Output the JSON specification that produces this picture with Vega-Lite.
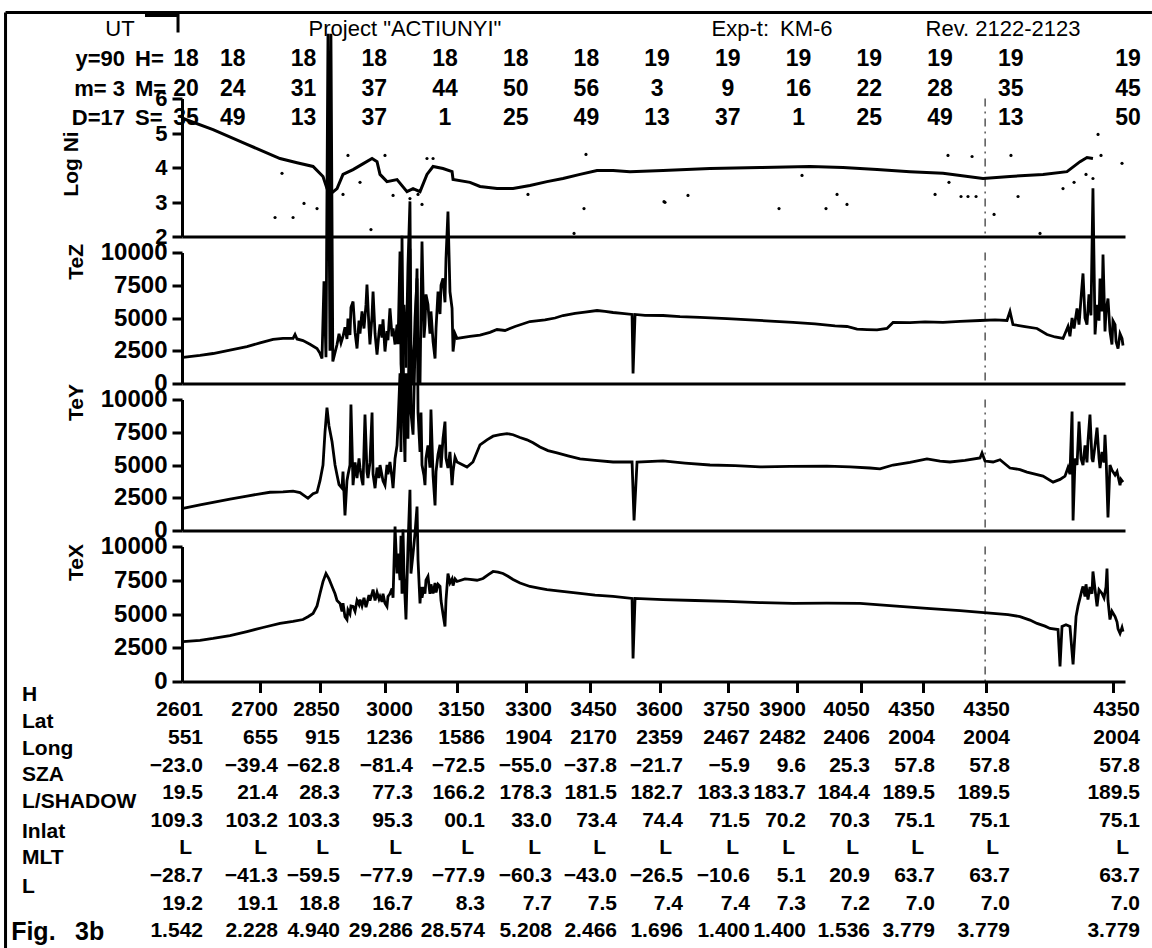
{
  "$schema": "https://vega.github.io/schema/vega-lite/v6.json",
  "background": "white",
  "padding": {"left": 4, "top": 9.5, "right": 0, "bottom": 0},
  "autosize": {"type": "pad"},
  "bounds": "flush",
  "spacing": 16,
  "config": {
    "view": {"stroke": null},
    "text": {"font": "Liberation Sans", "color": "black"},
    "axis": {"domainColor": "black", "domainWidth": 3, "tickColor": "black", "tickWidth": 3, "labelColor": "black", "titleColor": "black", "labelFont": "Liberation Sans", "titleFont": "Liberation Sans", "labelFontWeight": "bold", "titleFontWeight": "bold", "grid": false, "labelOverlap": false, "labelFlush": false}
  },
  "datasets": {
    "frame": [{"x1": 4.25, "x2": 4.25, "y1": -1.593, "y2": 30.2}, {"x1": 4.25, "x2": 108.0, "y1": -1.593, "y2": -1.593}],
    "bracket": [{"i": 0, "t": 16.87, "r": -1.49}, {"i": 1, "t": 19.86, "r": -1.49}, {"i": 2, "t": 19.86, "r": -0.915}],
    "titles": [{"t": 14.61, "r": -1.05, "text": "UT"}, {"t": 40.40, "r": -1.05, "text": "Project \"ACTIUNYI\""}, {"t": 73.62, "r": -1.05, "text": "Exp-t:\u2002KM-6"}, {"t": 94.52, "r": -1.05, "text": "Rev. 2122-2123"}],
    "datelabels": [{"t": 15.06, "r": 0, "text": "y=90"}, {"t": 15.06, "r": 1, "text": "m= 3"}, {"t": 15.06, "r": 2, "text": "D=17"}],
    "unitlabels": [{"t": 15.97, "r": 0, "text": "H="}, {"t": 15.97, "r": 1, "text": "M="}, {"t": 15.97, "r": 2, "text": "S="}],
    "ut": [
      {"t": 20.583, "r": 0, "text": "18"}, {"t": 24.817, "r": 0, "text": "18"}, {"t": 31.217, "r": 0, "text": "18"}, {"t": 37.617, "r": 0, "text": "18"}, {"t": 44.017, "r": 0, "text": "18"}, {"t": 50.417, "r": 0, "text": "18"}, {"t": 56.817, "r": 0, "text": "18"}, {"t": 63.217, "r": 0, "text": "19"}, {"t": 69.617, "r": 0, "text": "19"}, {"t": 76.017, "r": 0, "text": "19"}, {"t": 82.417, "r": 0, "text": "19"}, {"t": 88.817, "r": 0, "text": "19"}, {"t": 95.217, "r": 0, "text": "19"}, {"t": 105.833, "r": 0, "text": "19"},
      {"t": 20.583, "r": 1, "text": "20"}, {"t": 24.817, "r": 1, "text": "24"}, {"t": 31.217, "r": 1, "text": "31"}, {"t": 37.617, "r": 1, "text": "37"}, {"t": 44.017, "r": 1, "text": "44"}, {"t": 50.417, "r": 1, "text": "50"}, {"t": 56.817, "r": 1, "text": "56"}, {"t": 63.217, "r": 1, "text": "\u20073"}, {"t": 69.617, "r": 1, "text": "\u20079"}, {"t": 76.017, "r": 1, "text": "16"}, {"t": 82.417, "r": 1, "text": "22"}, {"t": 88.817, "r": 1, "text": "28"}, {"t": 95.217, "r": 1, "text": "35"}, {"t": 105.833, "r": 1, "text": "45"},
      {"t": 20.583, "r": 2, "text": "35"}, {"t": 24.817, "r": 2, "text": "49"}, {"t": 31.217, "r": 2, "text": "13"}, {"t": 37.617, "r": 2, "text": "37"}, {"t": 44.017, "r": 2, "text": "\u20071"}, {"t": 50.417, "r": 2, "text": "25"}, {"t": 56.817, "r": 2, "text": "49"}, {"t": 63.217, "r": 2, "text": "13"}, {"t": 69.617, "r": 2, "text": "37"}, {"t": 76.017, "r": 2, "text": "\u20071"}, {"t": 82.417, "r": 2, "text": "25"}, {"t": 88.817, "r": 2, "text": "49"}, {"t": 95.217, "r": 2, "text": "13"}, {"t": 105.833, "r": 2, "text": "50"}
    ],
    "marker": [{"t": 92.9}],
    "logni": [{"t":20.31,"v":5.42},{"t":23.03,"v":5.10},{"t":26.10,"v":4.67},{"t":29.09,"v":4.26},{"t":30.63,"v":4.14},{"t":32.08,"v":4.03},{"t":32.98,"v":3.74},{"t":33.34,"v":3.39},{"t":33.61,"v":3.22},{"t":34.25,"v":3.39},{"t":34.79,"v":3.80},{"t":35.70,"v":3.94},{"t":36.51,"v":4.09},{"t":37.42,"v":4.26},{"t":37.87,"v":4.17},{"t":38.14,"v":3.80},{"t":38.77,"v":3.59},{"t":39.68,"v":3.65},{"t":40.58,"v":3.30},{"t":41.13,"v":3.39},{"t":41.76,"v":3.30},{"t":42.39,"v":3.80},{"t":42.94,"v":4.03},{"t":43.84,"v":3.97},{"t":44.66,"v":3.88},{"t":44.75,"v":3.65},{"t":46.28,"v":3.57},{"t":47.19,"v":3.45},{"t":48.73,"v":3.39},{"t":50.18,"v":3.39},{"t":51.71,"v":3.48},{"t":53.25,"v":3.59},{"t":54.70,"v":3.68},{"t":56.24,"v":3.80},{"t":57.78,"v":3.91},{"t":59.23,"v":3.91},{"t":60.76,"v":3.88},{"t":63.75,"v":3.91},{"t":68.00,"v":3.97},{"t":72.53,"v":4.00},{"t":77.05,"v":4.03},{"t":80.04,"v":4.00},{"t":83.12,"v":3.94},{"t":86.10,"v":3.88},{"t":89.09,"v":3.83},{"t":92.71,"v":3.68},{"t":95.15,"v":3.74},{"t":98.14,"v":3.80},{"t":100.31,"v":3.88},{"t":101.49,"v":4.17},{"t":102.12,"v":4.29},{"t":102.66,"v":4.26}],
    "logni_pts": [{"t":29.27,"v":3.83},{"t":31.26,"v":2.96},{"t":32.44,"v":2.81},{"t":28.64,"v":2.55},{"t":30.27,"v":2.55},{"t":34.79,"v":3.22},{"t":36.33,"v":3.57},{"t":37.32,"v":2.20},{"t":35.24,"v":4.35},{"t":38.59,"v":4.35},{"t":42.39,"v":4.26},{"t":42.94,"v":4.26},{"t":39.32,"v":3.19},{"t":41.94,"v":2.93},{"t":40.85,"v":3.10},{"t":41.58,"v":3.22},{"t":56.78,"v":4.38},{"t":56.60,"v":2.81},{"t":55.70,"v":2.09},{"t":51.53,"v":3.22},{"t":63.84,"v":3.01},{"t":63.93,"v":2.99},{"t":66.01,"v":3.19},{"t":74.25,"v":2.81},{"t":76.33,"v":3.77},{"t":78.50,"v":2.81},{"t":79.50,"v":3.22},{"t":80.40,"v":2.93},{"t":88.37,"v":3.22},{"t":89.54,"v":4.35},{"t":91.72,"v":4.32},{"t":89.63,"v":3.57},{"t":90.72,"v":3.16},{"t":91.35,"v":3.16},{"t":92.08,"v":3.16},{"t":93.71,"v":2.64},{"t":95.24,"v":4.35},{"t":95.88,"v":3.16},{"t":97.87,"v":2.09},{"t":99.95,"v":3.39},{"t":100.95,"v":3.57},{"t":102.03,"v":3.80},{"t":102.66,"v":3.68},{"t":103.12,"v":4.96},{"t":103.39,"v":4.35},{"t":105.29,"v":4.12}],
    "tez": [{"t":20.31,"v":2000},{"t":21.85,"v":2150},{"t":23.03,"v":2290},{"t":24.56,"v":2550},{"t":26.10,"v":2820},{"t":27.28,"v":3100},{"t":28.46,"v":3360},{"t":29.36,"v":3450},{"t":30.27,"v":3440},{"t":30.45,"v":3740},{"t":30.63,"v":3400},{"t":31.17,"v":3280},{"t":31.80,"v":3000},{"t":32.44,"v":2670},{"t":32.71,"v":2300},{"t":32.89,"v":1910},{"t":33.07,"v":7800},{"t":33.25,"v":2000},{"t":33.43,"v":26700},{"t":33.61,"v":2500},{"t":33.70,"v":26700},{"t":33.87,"v":1680},
      {"t":34.25,"v":2980},{"t":34.43,"v":3800},{"t":34.61,"v":3100},{"t":34.79,"v":3590},{"t":34.97,"v":4300},{"t":35.15,"v":3400},{"t":35.24,"v":4960},{"t":35.42,"v":3700},{"t":35.51,"v":5800},{"t":35.70,"v":6260},{"t":35.88,"v":3900},{"t":36.06,"v":2670},{"t":36.24,"v":4800},{"t":36.33,"v":3800},{"t":36.51,"v":5500},{"t":36.69,"v":4200},{"t":36.87,"v":6000},{"t":36.96,"v":7560},{"t":37.14,"v":4300},{"t":37.23,"v":2980},{"t":37.42,"v":5200},{"t":37.51,"v":7020},{"t":37.69,"v":3800},{"t":37.87,"v":2210},{"t":38.05,"v":3900},{"t":38.14,"v":4500},{"t":38.32,"v":3500},{"t":38.41,"v":4900},{"t":38.59,"v":2440},{"t":38.77,"v":4000},{"t":38.86,"v":3300},{"t":39.04,"v":5730},{"t":39.23,"v":3600},{"t":39.32,"v":4200},{"t":39.50,"v":2980},{"t":39.68,"v":4500},{"t":39.77,"v":3000},{"t":39.95,"v":10080},{"t":40.04,"v":1500},{"t":40.13,"v":150},{"t":40.31,"v":6000},{"t":40.49,"v":1200},{"t":40.67,"v":9000},{"t":40.85,"v":13900},{"t":40.94,"v":3000},{"t":41.13,"v":0},{"t":41.31,"v":5000},{"t":41.49,"v":8020},{"t":41.58,"v":2000},{"t":41.76,"v":0},{"t":41.85,"v":6000},{"t":41.94,"v":10840},{"t":42.12,"v":3500},{"t":42.21,"v":4500},{"t":42.30,"v":6800},{"t":42.48,"v":6030},{"t":42.66,"v":3800},{"t":42.75,"v":5500},{"t":42.94,"v":3200},{"t":43.12,"v":1910},{"t":43.21,"v":4200},{"t":43.39,"v":7020},{"t":43.57,"v":5300},{"t":43.66,"v":7500},{"t":43.84,"v":8020},{"t":44.02,"v":6200},{"t":44.11,"v":9500},{"t":44.29,"v":13130},{"t":44.47,"v":7000},{"t":44.66,"v":5730},{"t":44.75,"v":2440},{"t":44.93,"v":3800},{"t":45.11,"v":3440},
      {"t":46.28,"v":3590},{"t":47.19,"v":3700},{"t":48.09,"v":3900},{"t":48.73,"v":4120},{"t":49.45,"v":4050},{"t":50.36,"v":4350},{"t":51.71,"v":4730},{"t":53.07,"v":4850},{"t":53.98,"v":5000},{"t":54.70,"v":5190},{"t":55.79,"v":5350},{"t":56.69,"v":5450},{"t":57.78,"v":5570},{"t":58.50,"v":5500},{"t":59.23,"v":5420},{"t":60.04,"v":5350},{"t":60.95,"v":5270},{"t":61.04,"v":760},{"t":61.22,"v":5270},{"t":62.12,"v":5200},{"t":63.75,"v":5190},{"t":65.29,"v":5100},{"t":67.10,"v":5050},{"t":69.54,"v":4960},{"t":71.62,"v":4850},{"t":73.89,"v":4750},{"t":75.52,"v":4660},{"t":77.51,"v":4550},{"t":79.32,"v":4400},{"t":80.40,"v":4350},{"t":81.31,"v":4150},{"t":82.21,"v":4120},{"t":83.12,"v":4100},{"t":84.02,"v":4200},{"t":84.57,"v":4660},{"t":86.10,"v":4650},{"t":87.46,"v":4700},{"t":89.09,"v":4660},{"t":90.63,"v":4750},{"t":92.44,"v":4810},{"t":93.80,"v":4850},{"t":94.88,"v":4810},{"t":95.15,"v":5500},{"t":95.42,"v":4500},{"t":96.51,"v":4350},{"t":97.60,"v":4200},{"t":98.50,"v":3740},{"t":99.23,"v":3550},{"t":99.95,"v":3440},
      {"t":100.40,"v":4350},{"t":100.58,"v":3600},{"t":100.77,"v":5000},{"t":100.95,"v":4200},{"t":101.22,"v":5730},{"t":101.40,"v":4500},{"t":101.58,"v":6500},{"t":101.76,"v":8400},{"t":101.94,"v":5000},{"t":102.12,"v":4500},{"t":102.30,"v":6800},{"t":102.48,"v":5200},{"t":102.57,"v":10080},{"t":102.66,"v":14900},{"t":102.85,"v":3740},{"t":103.03,"v":6000},{"t":103.21,"v":4800},{"t":103.30,"v":8020},{"t":103.48,"v":5500},{"t":103.57,"v":9850},{"t":103.75,"v":3970},{"t":103.84,"v":5500},{"t":104.02,"v":6490},{"t":104.20,"v":4000},{"t":104.38,"v":2980},{"t":104.47,"v":4800},{"t":104.66,"v":4500},{"t":104.75,"v":3200},{"t":104.93,"v":2670},{"t":105.11,"v":3800},{"t":105.29,"v":3440},{"t":105.38,"v":2900}],
    "tey": [{"t":20.31,"v":1690},{"t":21.85,"v":1950},{"t":23.03,"v":2150},{"t":24.56,"v":2400},{"t":26.10,"v":2620},{"t":27.28,"v":2800},{"t":28.18,"v":2920},{"t":29.36,"v":2950},{"t":30.27,"v":3000},{"t":30.90,"v":2900},{"t":31.62,"v":2460},{"t":32.08,"v":2800},{"t":32.44,"v":2920},{"t":32.71,"v":3800},{"t":32.98,"v":5000},{"t":33.16,"v":7500},{"t":33.34,"v":9380},{"t":33.52,"v":8000},{"t":33.80,"v":6770},{"t":34.07,"v":5000},{"t":34.25,"v":4230},{"t":34.43,"v":3500},{"t":34.70,"v":3230},{"t":34.79,"v":4500},{"t":34.97,"v":1150},{"t":35.15,"v":3800},{"t":35.24,"v":4230},{"t":35.42,"v":5000},{"t":35.51,"v":9620},{"t":35.70,"v":3460},{"t":35.88,"v":5200},{"t":36.06,"v":4000},{"t":36.24,"v":5500},{"t":36.33,"v":4770},{"t":36.51,"v":3800},{"t":36.60,"v":3460},{"t":36.78,"v":8850},{"t":36.96,"v":4500},{"t":37.05,"v":4000},{"t":37.23,"v":5200},{"t":37.42,"v":9000},{"t":37.51,"v":4300},{"t":37.69,"v":3230},{"t":37.87,"v":4800},{"t":38.05,"v":4000},{"t":38.14,"v":5000},{"t":38.32,"v":4200},{"t":38.41,"v":3800},{"t":38.59,"v":3460},{"t":38.77,"v":5000},{"t":38.86,"v":4300},{"t":39.04,"v":5230},{"t":39.23,"v":4000},{"t":39.32,"v":3230},{"t":39.50,"v":5500},{"t":39.68,"v":6500},{"t":39.77,"v":8080},{"t":39.95,"v":12000},{"t":40.04,"v":6000},{"t":40.13,"v":22500},{"t":40.31,"v":8000},{"t":40.40,"v":5230},{"t":40.49,"v":12000},{"t":40.67,"v":7000},{"t":40.85,"v":21500},{"t":40.94,"v":9000},{"t":41.13,"v":7310},{"t":41.31,"v":14000},{"t":41.49,"v":20000},{"t":41.58,"v":9000},{"t":41.76,"v":6000},{"t":41.85,"v":9000},{"t":41.94,"v":5000},{"t":42.12,"v":4200},{"t":42.21,"v":3460},{"t":42.30,"v":5500},{"t":42.48,"v":6500},{"t":42.66,"v":4800},{"t":42.75,"v":9230},{"t":42.94,"v":4200},{"t":43.12,"v":1920},{"t":43.21,"v":4500},{"t":43.39,"v":5800},{"t":43.57,"v":6540},{"t":43.66,"v":4800},{"t":43.84,"v":7000},{"t":44.02,"v":8310},{"t":44.11,"v":5500},{"t":44.29,"v":4770},{"t":44.47,"v":6000},{"t":44.66,"v":3460},{"t":44.75,"v":4500},{"t":44.93,"v":5600},{"t":45.11,"v":5230},
      {"t":46.01,"v":4850},{"t":46.55,"v":5230},{"t":47.19,"v":6540},{"t":47.82,"v":6920},{"t":48.37,"v":7200},{"t":49.00,"v":7310},{"t":49.63,"v":7400},{"t":50.18,"v":7310},{"t":50.81,"v":7100},{"t":51.44,"v":6920},{"t":51.99,"v":6700},{"t":52.62,"v":6380},{"t":53.34,"v":6100},{"t":54.16,"v":5920},{"t":55.15,"v":5700},{"t":56.24,"v":5460},{"t":57.60,"v":5350},{"t":59.23,"v":5230},{"t":60.95,"v":5230},{"t":61.13,"v":770},{"t":61.40,"v":5230},{"t":63.75,"v":5310},{"t":65.74,"v":5150},{"t":68.00,"v":5000},{"t":70.27,"v":4950},{"t":72.53,"v":4850},{"t":75.24,"v":4900},{"t":78.59,"v":4920},{"t":80.68,"v":4850},{"t":82.48,"v":4770},{"t":83.39,"v":4700},{"t":84.57,"v":5000},{"t":86.10,"v":5200},{"t":87.64,"v":5460},{"t":88.82,"v":5300},{"t":89.72,"v":5230},{"t":91.08,"v":5350},{"t":92.44,"v":5540},{"t":92.62,"v":5920},{"t":92.89,"v":5300},{"t":93.62,"v":5230},{"t":94.25,"v":5400},{"t":95.15,"v":4770},{"t":96.06,"v":4650},{"t":96.69,"v":4460},{"t":97.42,"v":4300},{"t":98.14,"v":4150},{"t":99.05,"v":3690},{"t":99.68,"v":3900},{"t":100.13,"v":4150},
      {"t":100.40,"v":4800},{"t":100.58,"v":4300},{"t":100.77,"v":9080},{"t":100.86,"v":770},{"t":101.04,"v":5500},{"t":101.22,"v":5000},{"t":101.40,"v":8310},{"t":101.58,"v":5500},{"t":101.76,"v":5000},{"t":101.94,"v":6500},{"t":102.12,"v":5200},{"t":102.21,"v":6800},{"t":102.39,"v":8850},{"t":102.57,"v":5500},{"t":102.66,"v":5230},{"t":102.85,"v":6500},{"t":103.03,"v":7850},{"t":103.21,"v":5500},{"t":103.30,"v":4770},{"t":103.48,"v":6000},{"t":103.66,"v":5200},{"t":103.75,"v":7310},{"t":103.84,"v":5800},{"t":104.02,"v":1000},{"t":104.20,"v":5000},{"t":104.38,"v":4600},{"t":104.66,"v":4230},{"t":104.84,"v":4500},{"t":105.11,"v":3460},{"t":105.20,"v":3900},{"t":105.38,"v":3690}],
    "tex": [{"t":20.31,"v":2960},{"t":21.85,"v":3050},{"t":23.03,"v":3190},{"t":24.56,"v":3400},{"t":26.10,"v":3700},{"t":27.55,"v":4000},{"t":29.09,"v":4300},{"t":30.27,"v":4450},{"t":31.17,"v":4590},{"t":31.62,"v":4800},{"t":32.08,"v":5040},{"t":32.44,"v":5600},{"t":32.71,"v":6520},{"t":32.98,"v":7400},{"t":33.25,"v":8000},{"t":33.52,"v":7600},{"t":33.80,"v":7040},{"t":34.07,"v":6500},{"t":34.25,"v":6000},{"t":34.52,"v":5780},{"t":34.70,"v":5200},{"t":34.79,"v":5800},{"t":34.97,"v":4800},{"t":35.15,"v":4590},{"t":35.24,"v":5300},{"t":35.42,"v":5000},{"t":35.51,"v":5600},{"t":35.70,"v":5560},{"t":35.88,"v":5200},{"t":36.06,"v":6000},{"t":36.24,"v":5700},{"t":36.33,"v":6070},{"t":36.51,"v":5600},{"t":36.69,"v":6200},{"t":36.87,"v":5500},{"t":36.96,"v":5780},{"t":37.14,"v":6400},{"t":37.23,"v":6000},{"t":37.42,"v":6500},{"t":37.51,"v":6810},{"t":37.69,"v":6000},{"t":37.87,"v":6600},{"t":38.05,"v":6100},{"t":38.14,"v":6300},{"t":38.32,"v":5900},{"t":38.41,"v":6500},{"t":38.59,"v":5800},{"t":38.77,"v":5560},{"t":38.86,"v":6300},{"t":39.04,"v":6500},{"t":39.23,"v":6890},{"t":39.32,"v":6200},{"t":39.50,"v":11480},{"t":39.68,"v":8000},{"t":39.77,"v":9480},{"t":39.95,"v":7500},{"t":40.04,"v":10800},{"t":40.13,"v":6500},{"t":40.22,"v":11260},{"t":40.31,"v":8000},{"t":40.49,"v":4590},{"t":40.67,"v":10000},{"t":40.85,"v":14200},{"t":40.94,"v":8000},{"t":41.13,"v":9480},{"t":41.31,"v":11000},{"t":41.49,"v":12960},{"t":41.58,"v":9000},{"t":41.76,"v":5780},{"t":41.85,"v":7000},{"t":41.94,"v":6200},{"t":42.12,"v":7000},{"t":42.21,"v":6500},{"t":42.30,"v":7500},{"t":42.48,"v":7780},{"t":42.66,"v":6500},{"t":42.75,"v":7200},{"t":42.94,"v":6520},{"t":43.12,"v":7300},{"t":43.21,"v":6600},{"t":43.39,"v":7200},{"t":43.57,"v":7040},{"t":43.66,"v":6000},{"t":43.84,"v":5000},{"t":44.02,"v":4070},{"t":44.11,"v":6000},{"t":44.29,"v":8000},{"t":44.47,"v":7300},{"t":44.66,"v":7600},{"t":44.75,"v":7100},{"t":44.93,"v":7600},{"t":45.11,"v":7410},
      {"t":45.83,"v":7600},{"t":46.28,"v":7560},{"t":46.92,"v":7500},{"t":47.46,"v":7630},{"t":47.91,"v":7900},{"t":48.37,"v":8150},{"t":48.82,"v":8100},{"t":49.27,"v":8000},{"t":49.72,"v":7800},{"t":50.18,"v":7560},{"t":50.81,"v":7300},{"t":51.71,"v":7040},{"t":52.62,"v":6900},{"t":53.25,"v":6810},{"t":54.43,"v":6700},{"t":56.24,"v":6520},{"t":57.60,"v":6400},{"t":59.23,"v":6300},{"t":60.95,"v":6150},{"t":61.04,"v":1700},{"t":61.22,"v":6150},{"t":63.75,"v":6070},{"t":66.65,"v":6000},{"t":69.54,"v":5930},{"t":72.53,"v":5850},{"t":75.52,"v":5780},{"t":78.59,"v":5800},{"t":81.58,"v":5780},{"t":84.57,"v":5600},{"t":87.64,"v":5410},{"t":90.63,"v":5250},{"t":93.62,"v":5040},{"t":94.97,"v":4950},{"t":96.06,"v":4810},{"t":96.96,"v":4550},{"t":97.60,"v":4300},{"t":98.32,"v":4100},{"t":98.77,"v":3930},{"t":99.50,"v":3850},{"t":99.68,"v":1110},{"t":99.86,"v":4070},{"t":100.22,"v":4200},{"t":100.58,"v":4070},{"t":100.86,"v":1260},{"t":101.13,"v":4810},{"t":101.31,"v":5600},{"t":101.49,"v":6200},{"t":101.67,"v":6800},{"t":101.76,"v":7040},{"t":101.94,"v":6300},{"t":102.03,"v":7200},{"t":102.21,"v":6070},{"t":102.39,"v":7000},{"t":102.57,"v":6500},{"t":102.66,"v":8150},{"t":102.85,"v":6800},{"t":103.03,"v":5560},{"t":103.21,"v":6800},{"t":103.48,"v":6520},{"t":103.66,"v":6200},{"t":103.84,"v":7000},{"t":103.93,"v":8370},{"t":104.02,"v":6000},{"t":104.20,"v":4590},{"t":104.38,"v":5200},{"t":104.66,"v":4810},{"t":104.84,"v":4400},{"t":104.93,"v":3900},{"t":105.11,"v":3560},{"t":105.29,"v":4000},{"t":105.38,"v":3700}],
    "rowlabels": [{"col": -1, "row": -0.56, "text": "H"}, {"col": -1, "row": 0.40, "text": "Lat"}, {"col": -1, "row": 1.38, "text": "Long"}, {"col": -1, "row": 2.32, "text": "SZA"}, {"col": -1, "row": 3.33, "text": "L/SHADOW"}, {"col": -1, "row": 4.39, "text": "Inlat"}, {"col": -1, "row": 5.36, "text": "MLT"}, {"col": -1, "row": 6.38, "text": "L"}],
    "figlabel": [{"col": -1.06, "row": 8.04, "text": "Fig.\u2002 3b"}],
    "orbit": [
      {"col":0,"row":0,"text":"2601"},{"col":1,"row":0,"text":"2700"},{"col":2,"row":0,"text":"2850"},{"col":3,"row":0,"text":"3000"},{"col":4,"row":0,"text":"3150"},{"col":5,"row":0,"text":"3300"},{"col":6,"row":0,"text":"3450"},{"col":7,"row":0,"text":"3600"},{"col":8,"row":0,"text":"3750"},{"col":9,"row":0,"text":"3900"},{"col":10,"row":0,"text":"4050"},{"col":11,"row":0,"text":"4350"},{"col":12,"row":0,"text":"4350"},{"col":13,"row":0,"text":"4350"},
      {"col":0,"row":1,"text":"551"},{"col":1,"row":1,"text":"655"},{"col":2,"row":1,"text":"915"},{"col":3,"row":1,"text":"1236"},{"col":4,"row":1,"text":"1586"},{"col":5,"row":1,"text":"1904"},{"col":6,"row":1,"text":"2170"},{"col":7,"row":1,"text":"2359"},{"col":8,"row":1,"text":"2467"},{"col":9,"row":1,"text":"2482"},{"col":10,"row":1,"text":"2406"},{"col":11,"row":1,"text":"2004"},{"col":12,"row":1,"text":"2004"},{"col":13,"row":1,"text":"2004"},
      {"col":0,"row":2,"text":"−23.0"},{"col":1,"row":2,"text":"−39.4"},{"col":2,"row":2,"text":"−62.8"},{"col":3,"row":2,"text":"−81.4"},{"col":4,"row":2,"text":"−72.5"},{"col":5,"row":2,"text":"−55.0"},{"col":6,"row":2,"text":"−37.8"},{"col":7,"row":2,"text":"−21.7"},{"col":8,"row":2,"text":"−5.9"},{"col":9,"row":2,"text":"9.6"},{"col":10,"row":2,"text":"25.3"},{"col":11,"row":2,"text":"57.8"},{"col":12,"row":2,"text":"57.8"},{"col":13,"row":2,"text":"57.8"},
      {"col":0,"row":3,"text":"19.5"},{"col":1,"row":3,"text":"21.4"},{"col":2,"row":3,"text":"28.3"},{"col":3,"row":3,"text":"77.3"},{"col":4,"row":3,"text":"166.2"},{"col":5,"row":3,"text":"178.3"},{"col":6,"row":3,"text":"181.5"},{"col":7,"row":3,"text":"182.7"},{"col":8,"row":3,"text":"183.3"},{"col":9,"row":3,"text":"183.7"},{"col":10,"row":3,"text":"184.4"},{"col":11,"row":3,"text":"189.5"},{"col":12,"row":3,"text":"189.5"},{"col":13,"row":3,"text":"189.5"},
      {"col":0,"row":4,"text":"109.3"},{"col":1,"row":4,"text":"103.2"},{"col":2,"row":4,"text":"103.3"},{"col":3,"row":4,"text":"95.3"},{"col":4,"row":4,"text":"00.1"},{"col":5,"row":4,"text":"33.0"},{"col":6,"row":4,"text":"73.4"},{"col":7,"row":4,"text":"74.4"},{"col":8,"row":4,"text":"71.5"},{"col":9,"row":4,"text":"70.2"},{"col":10,"row":4,"text":"70.3"},{"col":11,"row":4,"text":"75.1"},{"col":12,"row":4,"text":"75.1"},{"col":13,"row":4,"text":"75.1"},
      {"col":0,"row":5,"text":"L"},{"col":1,"row":5,"text":"L"},{"col":2,"row":5,"text":"L"},{"col":3,"row":5,"text":"L"},{"col":4,"row":5,"text":"L"},{"col":5,"row":5,"text":"L"},{"col":6,"row":5,"text":"L"},{"col":7,"row":5,"text":"L"},{"col":8,"row":5,"text":"L"},{"col":9,"row":5,"text":"L"},{"col":10,"row":5,"text":"L"},{"col":11,"row":5,"text":"L"},{"col":12,"row":5,"text":"L"},{"col":13,"row":5,"text":"L"},
      {"col":0,"row":6,"text":"−28.7"},{"col":1,"row":6,"text":"−41.3"},{"col":2,"row":6,"text":"−59.5"},{"col":3,"row":6,"text":"−77.9"},{"col":4,"row":6,"text":"−77.9"},{"col":5,"row":6,"text":"−60.3"},{"col":6,"row":6,"text":"−43.0"},{"col":7,"row":6,"text":"−26.5"},{"col":8,"row":6,"text":"−10.6"},{"col":9,"row":6,"text":"5.1"},{"col":10,"row":6,"text":"20.9"},{"col":11,"row":6,"text":"63.7"},{"col":12,"row":6,"text":"63.7"},{"col":13,"row":6,"text":"63.7"},
      {"col":0,"row":7,"text":"19.2"},{"col":1,"row":7,"text":"19.1"},{"col":2,"row":7,"text":"18.8"},{"col":3,"row":7,"text":"16.7"},{"col":4,"row":7,"text":"8.3"},{"col":5,"row":7,"text":"7.7"},{"col":6,"row":7,"text":"7.5"},{"col":7,"row":7,"text":"7.4"},{"col":8,"row":7,"text":"7.4"},{"col":9,"row":7,"text":"7.3"},{"col":10,"row":7,"text":"7.2"},{"col":11,"row":7,"text":"7.0"},{"col":12,"row":7,"text":"7.0"},{"col":13,"row":7,"text":"7.0"},
      {"col":0,"row":8,"text":"1.542"},{"col":1,"row":8,"text":"2.228"},{"col":2,"row":8,"text":"4.940"},{"col":3,"row":8,"text":"29.286"},{"col":4,"row":8,"text":"28.574"},{"col":5,"row":8,"text":"5.208"},{"col":6,"row":8,"text":"2.466"},{"col":7,"row":8,"text":"1.696"},{"col":8,"row":8,"text":"1.400"},{"col":9,"row":8,"text":"1.400"},{"col":10,"row":8,"text":"1.536"},{"col":11,"row":8,"text":"3.779"},{"col":12,"row":8,"text":"3.779"},{"col":13,"row":8,"text":"3.779"}
    ]
  },
  "vconcat": [
    {
      "width": 943, "height": 69,
      "layer": [
        {"data": {"name": "frame"}, "mark": {"type": "rule", "color": "black", "strokeWidth": 3, "clip": false},
         "encoding": {"x": {"field": "x1", "type": "quantitative", "scale": {"domain": [20.22, 105.56], "nice": false, "zero": false}, "axis": null}, "x2": {"field": "x2"},
                      "y": {"field": "y1", "type": "quantitative", "scale": {"domain": [-1.559, 0.78], "nice": false, "zero": false, "reverse": true}, "axis": null}, "y2": {"field": "y2"}}},
        {"data": {"name": "bracket"}, "mark": {"type": "line", "color": "black", "strokeWidth": 3, "clip": false},
         "encoding": {"x": {"field": "t", "type": "quantitative", "scale": {"domain": [20.22, 105.56], "nice": false, "zero": false}, "axis": null},
                      "y": {"field": "r", "type": "quantitative", "scale": {"domain": [-1.559, 0.78], "nice": false, "zero": false, "reverse": true}, "axis": null},
                      "order": {"field": "i"}}},
        {"data": {"name": "titles"}, "mark": {"type": "text", "fontSize": 22, "align": "center", "baseline": "middle"},
         "encoding": {"x": {"field": "t", "type": "quantitative", "scale": {"domain": [20.22, 105.56], "nice": false, "zero": false}, "axis": null},
                      "y": {"field": "r", "type": "quantitative", "scale": {"domain": [-1.559, 0.78], "nice": false, "zero": false, "reverse": true}, "axis": null},
                      "text": {"field": "text"}}},
        {"data": {"name": "datelabels"}, "mark": {"type": "text", "fontSize": 22, "fontWeight": "bold", "align": "right", "baseline": "middle"},
         "encoding": {"x": {"field": "t", "type": "quantitative", "scale": {"domain": [20.22, 105.56], "nice": false, "zero": false}, "axis": null},
                      "y": {"field": "r", "type": "quantitative", "scale": {"domain": [-1.559, 0.78], "nice": false, "zero": false, "reverse": true}, "axis": null},
                      "text": {"field": "text"}}},
        {"data": {"name": "unitlabels"}, "mark": {"type": "text", "fontSize": 22, "fontWeight": "bold", "align": "left", "baseline": "middle"},
         "encoding": {"x": {"field": "t", "type": "quantitative", "scale": {"domain": [20.22, 105.56], "nice": false, "zero": false}, "axis": null},
                      "y": {"field": "r", "type": "quantitative", "scale": {"domain": [-1.559, 0.78], "nice": false, "zero": false, "reverse": true}, "axis": null},
                      "text": {"field": "text"}}},
        {"data": {"name": "ut"}, "mark": {"type": "text", "fontSize": 23, "fontWeight": "bold", "align": "center", "baseline": "middle"},
         "encoding": {"x": {"field": "t", "type": "quantitative", "scale": {"domain": [20.22, 105.56], "nice": false, "zero": false}, "axis": null},
                      "y": {"field": "r", "type": "quantitative", "scale": {"domain": [-1.559, 0.78], "nice": false, "zero": false, "reverse": true}, "axis": null},
                      "text": {"field": "text"}}}
      ]
    },
    {
      "width": 943, "height": 138,
      "layer": [
        {"data": {"name": "logni"}, "mark": {"type": "line", "color": "black", "strokeWidth": 3, "clip": false},
         "encoding": {"x": {"field": "t", "type": "quantitative", "scale": {"domain": [20.22, 105.56], "nice": false, "zero": false}, "axis": {"title": null, "labels": false, "ticks": false}},
                      "y": {"field": "v", "type": "quantitative", "scale": {"domain": [2, 6], "nice": false, "zero": false},
                            "axis": {"title": "Log Ni", "values": [2, 3, 4, 5, 6], "tickCount": 5, "labelOverlap": false, "labelBound": false, "labelFontSize": 22, "tickSize": 10, "labelPadding": 5, "titleFontSize": 21, "titleAngle": -90, "titleX": -105, "titleY": 65, "titleAlign": "center", "titleBaseline": "alphabetic"}}}},
        {"data": {"name": "logni_pts"}, "mark": {"type": "circle", "color": "black", "opacity": 1, "size": 10, "clip": false},
         "encoding": {"x": {"field": "t", "type": "quantitative", "scale": {"domain": [20.22, 105.56], "nice": false, "zero": false}, "axis": {"title": null, "labels": false, "ticks": false}},
                      "y": {"field": "v", "type": "quantitative", "scale": {"domain": [2, 6], "nice": false, "zero": false},
                            "axis": {"title": "Log Ni", "values": [2, 3, 4, 5, 6], "tickCount": 5, "labelOverlap": false, "labelBound": false, "labelFontSize": 22, "tickSize": 10, "labelPadding": 5, "titleFontSize": 21, "titleAngle": -90, "titleX": -105, "titleY": 65, "titleAlign": "center", "titleBaseline": "alphabetic"}}}},
        {"data": {"name": "marker"}, "mark": {"type": "rule", "color": "black", "strokeWidth": 1, "strokeDash": [8, 5, 2, 5]},
         "encoding": {"x": {"field": "t", "type": "quantitative"}}}
      ]
    },
    {
      "width": 943, "height": 131,
      "layer": [
        {"data": {"name": "tez"}, "mark": {"type": "line", "color": "black", "strokeWidth": 2.8, "clip": false},
         "encoding": {"x": {"field": "t", "type": "quantitative", "scale": {"domain": [20.22, 105.56], "nice": false, "zero": false}, "axis": {"title": null, "labels": false, "ticks": false}},
                      "y": {"field": "v", "type": "quantitative", "scale": {"domain": [0, 10000], "nice": false},
                            "axis": {"title": "TeZ", "values": [0, 2500, 5000, 7500, 10000], "format": "d", "labelOverlap": false, "labelFontSize": 24, "tickSize": 10, "labelPadding": 5, "titleFontSize": 21, "titleAngle": -90, "titleX": -100, "titleY": -9, "titleAlign": "right", "titleBaseline": "alphabetic"}}}},
        {"data": {"name": "marker"}, "mark": {"type": "rule", "color": "black", "strokeWidth": 1, "strokeDash": [8, 5, 2, 5]},
         "encoding": {"x": {"field": "t", "type": "quantitative"}}}
      ]
    },
    {
      "width": 943, "height": 131,
      "layer": [
        {"data": {"name": "tey"}, "mark": {"type": "line", "color": "black", "strokeWidth": 2.8, "clip": false},
         "encoding": {"x": {"field": "t", "type": "quantitative", "scale": {"domain": [20.22, 105.56], "nice": false, "zero": false}, "axis": {"title": null, "labels": false, "ticks": false}},
                      "y": {"field": "v", "type": "quantitative", "scale": {"domain": [0, 10000], "nice": false},
                            "axis": {"title": "TeY", "values": [0, 2500, 5000, 7500, 10000], "format": "d", "labelOverlap": false, "labelFontSize": 24, "tickSize": 10, "labelPadding": 5, "titleFontSize": 21, "titleAngle": -90, "titleX": -100, "titleY": -16, "titleAlign": "right", "titleBaseline": "alphabetic"}}}},
        {"data": {"name": "marker"}, "mark": {"type": "rule", "color": "black", "strokeWidth": 1, "strokeDash": [8, 5, 2, 5]},
         "encoding": {"x": {"field": "t", "type": "quantitative"}}}
      ]
    },
    {
      "width": 943, "height": 135,
      "layer": [
        {"data": {"name": "tex"}, "mark": {"type": "line", "color": "black", "strokeWidth": 2.8, "clip": false},
         "encoding": {"x": {"field": "t", "type": "quantitative", "scale": {"domain": [20.22, 105.56], "nice": false, "zero": false},
                            "axis": {"title": null, "labels": false, "ticks": true, "tickSize": 11, "values": [27.28, 32.71, 38.59, 45.11, 51.35, 57.14, 63.48, 69.63, 75.88, 81.67, 87.28, 92.98, 104.47]}},
                      "y": {"field": "v", "type": "quantitative", "scale": {"domain": [0, 10000], "nice": false},
                            "axis": {"title": "TeX", "values": [0, 2500, 5000, 7500, 10000], "format": "d", "labelOverlap": false, "labelFontSize": 24, "tickSize": 10, "labelPadding": 5, "titleFontSize": 21, "titleAngle": -90, "titleX": -100, "titleY": -3, "titleAlign": "right", "titleBaseline": "alphabetic"}}}},
        {"data": {"name": "marker"}, "mark": {"type": "rule", "color": "black", "strokeWidth": 1, "strokeDash": [8, 5, 2, 5]},
         "encoding": {"x": {"field": "t", "type": "quantitative"}}}
      ]
    },
    {
      "width": 943, "height": 250,
      "layer": [
        {"data": {"name": "rowlabels"}, "mark": {"type": "text", "fontSize": 21, "fontWeight": "bold", "align": "left", "baseline": "middle"},
         "encoding": {"x": {"field": "col", "type": "quantitative", "scale": {"domain": [-1, 0, 1, 2, 3, 4, 5, 6, 7, 8, 9, 10, 11, 12, 13], "range": [-160, 21, 96, 158, 231, 303, 370, 435, 501, 568, 624, 688, 753, 828, 958], "nice": false, "zero": false}, "axis": null},
                      "y": {"field": "row", "type": "quantitative", "scale": {"domain": [-0.471, 8.587], "nice": false, "zero": false, "reverse": true}, "axis": null},
                      "text": {"field": "text"}}},
        {"data": {"name": "figlabel"}, "mark": {"type": "text", "fontSize": 25, "fontWeight": "bold", "align": "left", "baseline": "middle"},
         "encoding": {"x": {"field": "col", "type": "quantitative", "scale": {"domain": [-1, 0, 1, 2, 3, 4, 5, 6, 7, 8, 9, 10, 11, 12, 13], "range": [-160, 21, 96, 158, 231, 303, 370, 435, 501, 568, 624, 688, 753, 828, 958], "nice": false, "zero": false}, "axis": null},
                      "y": {"field": "row", "type": "quantitative", "scale": {"domain": [-0.471, 8.587], "nice": false, "zero": false, "reverse": true}, "axis": null},
                      "text": {"field": "text"}}},
        {"data": {"name": "orbit"}, "transform": [{"filter": "datum.row != 5"}], "mark": {"type": "text", "fontSize": 21, "fontWeight": "bold", "align": "right", "baseline": "middle"},
         "encoding": {"x": {"field": "col", "type": "quantitative", "scale": {"domain": [-1, 0, 1, 2, 3, 4, 5, 6, 7, 8, 9, 10, 11, 12, 13], "range": [-160, 21, 96, 158, 231, 303, 370, 435, 501, 568, 624, 688, 753, 828, 958], "nice": false, "zero": false}, "axis": null},
                      "y": {"field": "row", "type": "quantitative", "scale": {"domain": [-0.471, 8.587], "nice": false, "zero": false, "reverse": true}, "axis": null},
                      "text": {"field": "text"}}},
        {"data": {"name": "orbit"}, "transform": [{"filter": "datum.row == 5"}], "mark": {"type": "text", "fontSize": 21, "fontWeight": "bold", "align": "right", "baseline": "middle", "dx": -11},
         "encoding": {"x": {"field": "col", "type": "quantitative", "scale": {"domain": [-1, 0, 1, 2, 3, 4, 5, 6, 7, 8, 9, 10, 11, 12, 13], "range": [-160, 21, 96, 158, 231, 303, 370, 435, 501, 568, 624, 688, 753, 828, 958], "nice": false, "zero": false}, "axis": null},
                      "y": {"field": "row", "type": "quantitative", "scale": {"domain": [-0.471, 8.587], "nice": false, "zero": false, "reverse": true}, "axis": null},
                      "text": {"field": "text"}}}
      ]
    }
  ]
}
